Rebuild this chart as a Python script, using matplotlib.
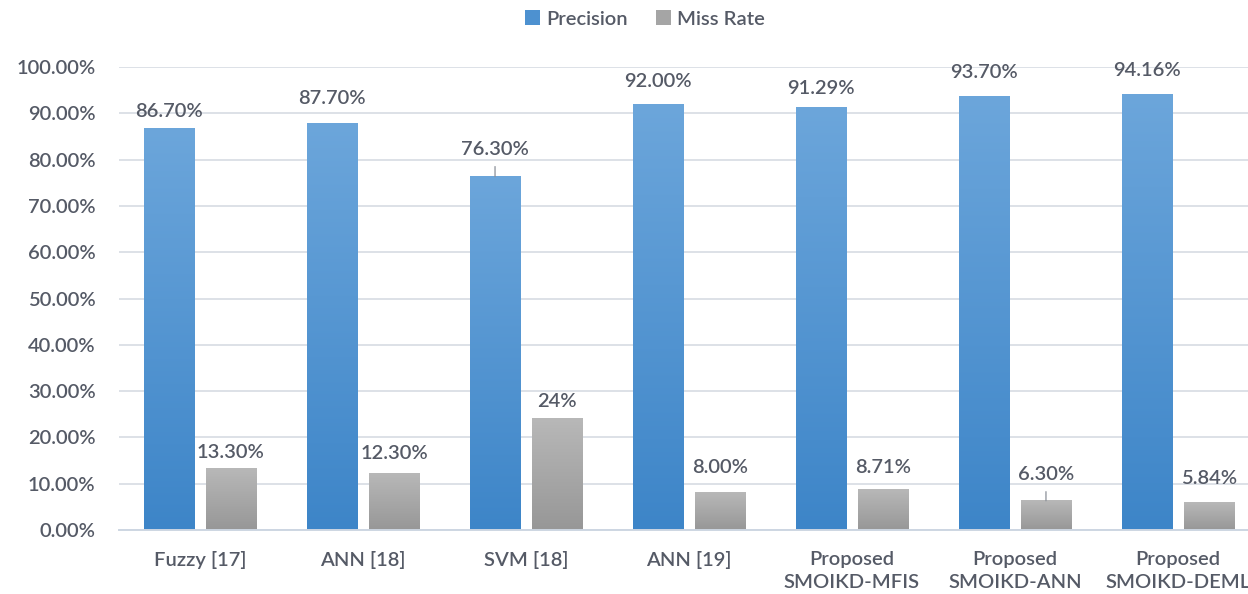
import matplotlib
matplotlib.use("Agg")
import matplotlib.pyplot as plt
import numpy as np
from matplotlib.colors import LinearSegmentedColormap

categories = ["Fuzzy [17]", "ANN [18]", "SVM [18]", "ANN [19]",
              "Proposed\nSMOIKD-MFIS", "Proposed\nSMOIKD-ANN", "Proposed\nSMOIKD-DEML"]
precision = [86.70, 87.70, 76.30, 92.00, 91.29, 93.70, 94.16]
miss_rate = [13.30, 12.30, 24.00, 8.00, 8.71, 6.30, 5.84]
precision_labels = ["86.70%", "87.70%", "76.30%", "92.00%", "91.29%", "93.70%", "94.16%"]
miss_labels = ["13.30%", "12.30%", "24%", "8.00%", "8.71%", "6.30%", "5.84%"]
yticks = [0, 10, 20, 30, 40, 50, 60, 70, 80, 90, 100]

# label placement (pixels above bar top) -- styling only
prec_off = [17.5, 25.5, 27, 23, 19, 24, 24]
miss_off = [16, 20, 17, 25, 22, 26, 24]
prec_leader = [False, False, True, False, False, False, False]
miss_leader = [False, False, False, False, False, True, False]

plt.rcParams['font.family'] = ['Lato', 'DejaVu Sans']
plt.rcParams['font.weight'] = 'semibold'
TEXT = "#555a66"
FS = 14.5
W, H = 1248, 594
fig = plt.figure(figsize=(W / 100, H / 100), dpi=100)
ax = fig.add_axes([118.5 / W, 64 / H, 1141 / W, 463 / H])

x = np.arange(len(categories))
bw = 0.307
off = 0.19

blue_cmap = LinearSegmentedColormap.from_list("b", ["#3d85c8", "#6ca6db"])
gray_cmap = LinearSegmentedColormap.from_list("g", ["#979797", "#b8b8b8"])

bars_p = ax.bar(x - off, precision, bw, color="#4d91d0", zorder=2, label="Precision")
bars_m = ax.bar(x + off, miss_rate, bw, color="#a5a5a5", zorder=2, label="Miss Rate")

grad = np.linspace(0, 1, 256).reshape(-1, 1)
for bars, cmap in ((bars_p, blue_cmap), (bars_m, gray_cmap)):
    for b in bars:
        x0, y0 = b.get_x(), b.get_y()
        w, h = b.get_width(), b.get_height()
        ax.imshow(grad, cmap=cmap, extent=(x0, x0 + w, y0, y0 + h),
                  origin="lower", aspect="auto", zorder=3, interpolation="bicubic")

ax.set_xlim(-0.5, len(categories) - 0.5)
ax.set_ylim(0, 100)
ax.set_yticks(yticks)
ax.set_yticklabels([f"{v:.2f}%" for v in yticks])
ax.yaxis.grid(True, color="#dde1e7", linewidth=1.4, zorder=0)
ax.set_axisbelow(True)
for s in ("top", "right", "left"):
    ax.spines[s].set_visible(False)
ax.spines["bottom"].set_color("#cdd6e2")
ax.spines["bottom"].set_linewidth(1.4)
ax.spines["bottom"].set_zorder(4)
ax.tick_params(axis="both", length=0, labelsize=FS, labelcolor=TEXT)
ax.tick_params(axis="y", pad=16.5)
ax.tick_params(axis="x", pad=15)
ax.set_xticks(x)
ax.set_xticklabels(categories, linespacing=1.45)

def put_labels(bars, labels, offs, leaders):
    for b, lab, o, ld in zip(bars, labels, offs, leaders):
        cx = b.get_x() + b.get_width() / 2
        top = b.get_height()
        kw = dict(xy=(cx, top), xytext=(0, o), textcoords="offset pixels",
                  ha="center", va="center", fontsize=FS, color=TEXT, zorder=5)
        if ld:
            kw["arrowprops"] = dict(arrowstyle="-", color="#8a8f98", lw=0.9,
                                    shrinkA=4, shrinkB=0)
        ax.annotate(lab, **kw)

put_labels(bars_p, precision_labels, prec_off, prec_leader)
put_labels(bars_m, miss_labels, miss_off, miss_leader)

fig.legend(handles=[bars_p, bars_m], loc="center", bbox_to_anchor=(645 / W, 1 - 19 / H),
           ncol=2, frameon=False, fontsize=FS, labelcolor=TEXT,
           handlelength=0.75, handleheight=0.75, handletextpad=0.3, columnspacing=1.4)

fig.savefig("out.png", dpi=100)
